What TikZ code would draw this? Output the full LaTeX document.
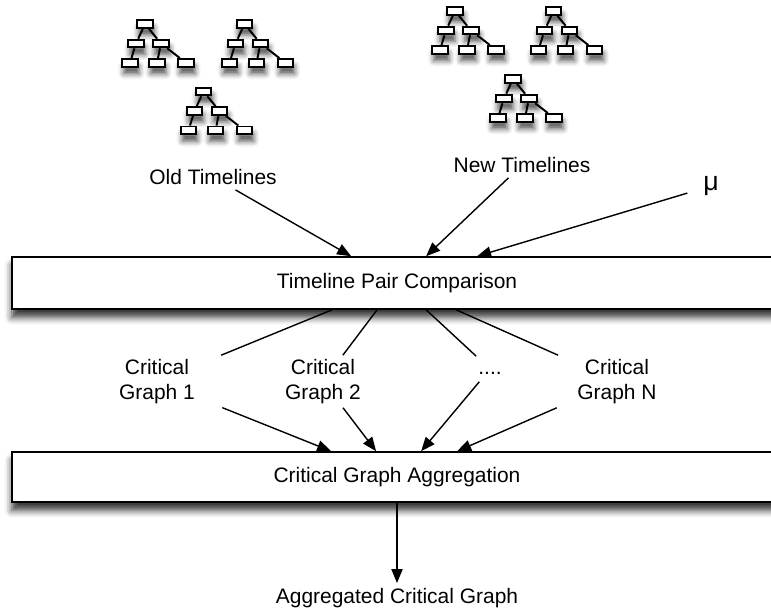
\documentclass[tikz,border=0pt]{standalone}
\usepackage{fontspec}
\setmainfont{Liberation Sans}
\usetikzlibrary{arrows.meta, calc, shadows.blur}

\newcommand{\diagfont}{\fontsize{14.9}{17.8}\selectfont}

\begin{document}
\begin{tikzpicture}[
    x=0.025cm, y=-0.025cm,
    stage/.style={rectangle, draw, fill=white, line width=1.1pt,
                  minimum width=19.25cm, minimum height=1.3cm, font=\diagfont,
                  blur shadow={shadow xshift=0pt, shadow yshift=-6pt,
                               shadow blur radius=5pt, shadow opacity=80}},
    tnode/.style={rectangle, draw, fill=white, line width=1.4pt,
                  minimum width=0.38cm, minimum height=0.19cm, inner sep=0pt,
                  blur shadow={shadow xshift=1pt, shadow yshift=-5pt,
                               shadow blur radius=4pt, shadow opacity=70}},
    tedge/.style={line width=1.4pt},
    lbl/.style={font=\diagfont, inner sep=3.5pt},
    cgraph/.style={font=\diagfont, align=center, inner sep=0pt,
                   minimum width=3.25cm, minimum height=1.3cm},
    flow/.style={-{Triangle[length=0.35cm, width=0.28cm]}, line width=1pt},
    link/.style={line width=1pt},
    timeline/.pic={
      \node[tnode] (-r) at (0,0) {};
      \node[tnode] (-a) at (-9,19.5) {};
      \node[tnode] (-b) at (16,19.5) {};
      \node[tnode] (-c) at (-15,38.8) {};
      \node[tnode] (-d) at (12,38.8) {};
      \node[tnode] (-e) at (41,38.8) {};
      \draw[tedge] (-r) -- (-a) (-r) -- (-b)
                   (-a) -- (-c) (-b) -- (-d) (-b) -- (-e);
    }
  ]
  \useasboundingbox (0,0) rectangle (771,615);

  %% Timeline trees
  \pic (old1) at (145,24) {timeline};
  \pic (old2) at (244.5,24) {timeline};
  \pic (old3) at (203.5,91.5) {timeline};
  \pic (new1) at (455,11) {timeline};
  \pic (new2) at (553.5,11) {timeline};
  \pic (new3) at (513,79) {timeline};

  %% Inputs
  \node[lbl] (old) at (213,177) {Old Timelines};
  \node[lbl] (new) at (522,165) {New Timelines};
  \node[lbl, font=\fontsize{19}{22}\selectfont] (mu) at (711,186) {μ};

  %% Stages
  \node[stage] (compare) at (397,283) {Timeline Pair Comparison};
  \node[stage, minimum height=1.25cm] (aggregate) at (397,477)
    {Critical Graph Aggregation};

  \coordinate (inOld) at ($(compare.north west)+(340,0)$);
  \coordinate (inNew) at ($(compare.north west)+(415,0)$);
  \coordinate (inMu)  at ($(compare.north west)+(466,0)$);

  \draw[flow] (old) -- (inOld);
  \draw[flow] (new) -- (inNew);
  \draw[flow, shorten <=8pt] (mu) -- (inMu);

  %% Critical graphs
  \node[cgraph] (cg1) at (157,381.5) {Critical\\Graph 1};
  \node[cgraph] (cg2) at (323,381.5) {Critical\\Graph 2};
  \node[cgraph, minimum height=0.625cm] (cgdots) at (490,369) {\strut....};
  \node[cgraph] (cgN) at (617,381.5) {Critical\\Graph N};

  \coordinate (outA) at ($(compare.south west)+(321,0)$);
  \coordinate (outB) at ($(compare.south west)+(366,0)$);
  \coordinate (outC) at ($(compare.south west)+(415,0)$);
  \coordinate (outD) at ($(compare.south west)+(445,0)$);

  \draw[link] (outA) -- (cg1);
  \draw[link] (outB) -- (cg2);
  \draw[link] (outC) -- (cgdots);
  \draw[link] (outD) -- (cgN);

  \coordinate (inA) at ($(aggregate.north west)+(320,0)$);
  \coordinate (inB) at ($(aggregate.north west)+(365,0)$);
  \coordinate (inC) at ($(aggregate.north west)+(410,0)$);
  \coordinate (inD) at ($(aggregate.north west)+(446,0)$);

  \draw[flow] (cg1) -- (inA);
  \draw[flow] (cg2) -- (inB);
  \draw[flow] (cgdots) -- (inC);
  \draw[flow] (cgN) -- (inD);

  %% Result
  \node[lbl] (result) at (397,598) {Aggregated Critical Graph};
  \draw[flow] (aggregate) -- (result);

\end{tikzpicture}
\end{document}
